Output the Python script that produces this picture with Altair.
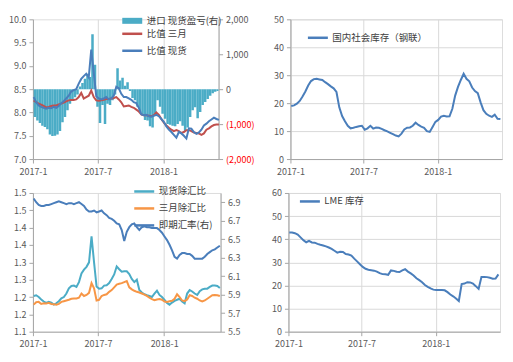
import altair as alt
import pandas as pd

# ---------------- data (weekly readings) ----------------
dates = pd.date_range("2017-01-03", periods=75, freq="7D")

# panel 1: import profit/loss (right axis) and ratios (left axis)
pnl = [-800, -900, -970, -1050, -1080, -1150, -1300, -1340, -1330, -1300,
       -1200, -950, -800, -600, -420, -300, -230, -150, 80, 180,
       300, 440, 350, 1570, 700, -500, -970, -450, -1000, -420,
       -450, -320, -150, 600, 250, 330, 100, 200, -50, -250,
       -320, -500, -650, -750, -880, -900, -1060, -1100, -700, -320,
       -500, -700, -850, -1000, -1020, -1050, -1060, -1000, -920, -1050,
       -1200, -1100, -800, -600, -520, -830, -650, -450, -370, -280,
       -190, -120, -70, -50, 30]
ratio_3m = [8.26, 8.22, 8.19, 8.17, 8.14, 8.11, 8.12, 8.14, 8.15, 8.15,
            8.17, 8.19, 8.21, 8.24, 8.26, 8.27, 8.27, 8.28, 8.33, 8.42,
            8.30, 8.33, 8.36, 8.47, 8.33, 8.26, 8.25, 8.26, 8.27, 8.29,
            8.29, 8.30, 8.31, 8.33, 8.28, 8.22, 8.13, 8.14, 8.15, 8.12,
            8.10, 8.06, 8.02, 7.96, 7.94, 7.94, 7.93, 7.92, 7.94, 8.00,
            7.95, 7.86, 7.78, 7.72, 7.67, 7.63, 7.60, 7.62, 7.60, 7.56,
            7.58, 7.62, 7.62, 7.60, 7.57, 7.56, 7.55, 7.52, 7.55, 7.63,
            7.66, 7.70, 7.73, 7.74, 7.74]
ratio_spot = [8.33, 8.22, 8.15, 8.12, 8.10, 8.08, 8.10, 8.09, 8.12, 8.10,
              8.14, 8.20, 8.24, 8.30, 8.36, 8.45, 8.48, 8.50, 8.62, 8.72,
              8.78, 8.83, 8.75, 9.35, 8.85, 8.35, 8.30, 8.28, 8.30, 8.33,
              8.28, 8.30, 8.36, 8.55, 8.52, 8.40, 8.33, 8.33, 8.30, 8.27,
              8.22, 8.20, 8.10, 7.96, 7.94, 7.95, 7.92, 7.91, 7.93, 7.95,
              7.92, 7.86, 7.80, 7.70, 7.63, 7.58, 7.52, 7.46, 7.58, 7.55,
              7.50, 7.44, 7.66, 7.65, 7.58, 7.54, 7.57, 7.63, 7.72, 7.76,
              7.81, 7.85, 7.89, 7.86, 7.84]

# panel 2: domestic social inventory
stock_cn = [19.0, 19.2, 19.8, 20.8, 22.4, 24.2, 26.3, 27.9, 28.6, 28.7,
            28.5, 28.3, 27.5, 26.8, 26.0, 25.3, 24.0, 18.5, 15.4, 13.5,
            11.9, 11.0, 11.2, 11.5, 11.7, 11.9, 10.5, 11.0, 11.9, 10.9,
            11.3, 11.2, 10.8, 10.3, 9.9, 9.4, 8.9, 8.4, 8.1, 9.1,
            10.6, 11.2, 11.3, 11.9, 13.0, 12.2, 11.6, 11.2, 10.0, 9.7,
            11.5, 13.3, 14.0, 15.2, 15.5, 15.2, 15.3, 18.0, 22.7, 25.8,
            28.3, 30.5, 28.7, 27.8, 25.6, 24.3, 23.6, 20.3, 17.5, 16.2,
            15.5, 15.1, 15.9, 14.4, 14.3]

# panel 3: ratios ex-FX (left) and spot FX rate (right)
spot_fx = [1.203, 1.205, 1.200, 1.193, 1.187, 1.183, 1.186, 1.184, 1.178, 1.182,
           1.188, 1.196, 1.200, 1.210, 1.225, 1.232, 1.233, 1.229, 1.243, 1.268,
           1.279, 1.287, 1.300, 1.375, 1.300, 1.230, 1.224, 1.225, 1.233, 1.234,
           1.240, 1.252, 1.265, 1.288, 1.280, 1.273, 1.274, 1.274, 1.266, 1.252,
           1.243, 1.250, 1.220, 1.213, 1.208, 1.205, 1.203, 1.200, 1.210, 1.218,
           1.206, 1.200, 1.192, 1.183, 1.178, 1.184, 1.189, 1.192, 1.195, 1.187,
           1.182, 1.210, 1.220, 1.216, 1.210, 1.206, 1.217, 1.222, 1.224, 1.224,
           1.229, 1.233, 1.233, 1.232, 1.226]
fut_fx = [1.178, 1.185, 1.186, 1.180, 1.182, 1.181, 1.183, 1.180, 1.179, 1.178,
          1.180, 1.186, 1.188, 1.190, 1.192, 1.195, 1.196, 1.196, 1.198, 1.210,
          1.203, 1.206, 1.212, 1.240, 1.225, 1.190, 1.192, 1.203, 1.206, 1.208,
          1.215, 1.220, 1.228, 1.236, 1.238, 1.240, 1.243, 1.246, 1.228, 1.222,
          1.218, 1.215, 1.213, 1.210, 1.207, 1.203, 1.198, 1.194, 1.191, 1.193,
          1.194, 1.192, 1.187, 1.186, 1.188, 1.189, 1.195, 1.208, 1.200, 1.190,
          1.188, 1.193, 1.205, 1.203, 1.198, 1.195, 1.190, 1.187, 1.190, 1.195,
          1.200, 1.205, 1.206, 1.205, 1.203]
fx_rate = [6.94, 6.90, 6.87, 6.86, 6.86, 6.87, 6.87, 6.88, 6.89, 6.90,
           6.91, 6.90, 6.89, 6.88, 6.89, 6.89, 6.88, 6.89, 6.90, 6.88,
           6.86, 6.82, 6.80, 6.80, 6.81, 6.79, 6.80, 6.81, 6.78, 6.76,
           6.73, 6.72, 6.70, 6.67, 6.66, 6.60, 6.48, 6.58, 6.63, 6.66,
           6.67, 6.63, 6.60, 6.63, 6.64, 6.63, 6.63, 6.62, 6.62, 6.62,
           6.60, 6.57, 6.53, 6.49, 6.44, 6.38, 6.31, 6.29, 6.33, 6.35,
           6.35, 6.34, 6.34, 6.32, 6.29, 6.29, 6.29, 6.29, 6.31, 6.34,
           6.36, 6.38, 6.39, 6.41, 6.43]

# panel 4: LME inventory
lme = [42.9, 42.9, 42.6, 42.0, 40.8, 39.6, 38.7, 39.3, 38.6, 38.5,
       38.0, 37.6, 37.3, 36.9, 36.4, 35.8, 35.0, 34.2, 34.6, 34.5,
       33.6, 33.4, 32.9, 31.6, 30.4, 29.2, 28.0, 27.2, 26.8, 26.6,
       26.4, 26.0, 25.3, 24.9, 24.8, 24.6, 26.5, 26.3, 25.9, 25.8,
       26.5, 27.0, 26.0, 25.2, 24.3, 23.1, 22.3, 21.4, 20.2, 19.4,
       18.7, 18.2, 18.0, 18.0, 18.0, 17.9, 17.1, 16.1, 15.3, 14.4,
       13.3, 20.6, 20.8, 21.4, 21.3, 20.8, 19.7, 18.5, 23.7, 23.7,
       23.6, 23.3, 22.9, 23.0, 24.8]

names1 = ["进口 现货盈亏(右)", "比值 三月", "比值 现货"]
names2 = ["国内社会库存（钢联）"]
names3 = ["现货除汇比", "三月除汇比", "即期汇率(右)"]
names4 = ["LME 库存"]

TEAL = "#4BACC6"
RED = "#C0504D"
BLUE = "#4A7EBB"
ORANGE = "#F79646"

FONT = "Noto Sans CJK SC"
LABEL = "#595959"
GRID = "#D9D9D9"
AXIS = "#A6A6A6"


def series_df(values, name):
    return pd.DataFrame({"date": dates[:len(values)], "v": values, "series": name})


# ---------------- helpers ----------------
x_ticks = [alt.DateTime(year=2017, month=1, date=1),
           alt.DateTime(year=2017, month=7, date=1),
           alt.DateTime(year=2018, month=1, date=1)]


def xenc(end_day):
    return alt.X(
        "date:T", title=None,
        scale=alt.Scale(domain=[alt.DateTime(year=2017, month=1, date=1),
                                alt.DateTime(year=2018, month=6, date=end_day)]),
        axis=alt.Axis(values=x_ticks, format="%Y-%-m", grid=True, gridColor=GRID,
                      domainColor=AXIS, tickColor=AXIS, labelColor=LABEL,
                      labelFontSize=9, labelPadding=4, tickSize=4,
                      labelFont=FONT, labelFlush=False))


def legend(x, y, stype="stroke", row_pad=-6):
    return alt.Legend(title=None, orient="none", legendX=x, legendY=y,
                      symbolType=stype, symbolSize=400, symbolStrokeWidth=2.5,
                      rowPadding=row_pad, labelFontSize=9.5, labelColor="#404040",
                      labelFont=FONT, padding=0, labelOffset=3)


def yaxis(orient, values, fmt=None, expr=None, grid=False, color=LABEL):
    kw = dict(orient=orient, values=values, grid=grid, gridColor=GRID,
              domainColor=AXIS, tickColor=AXIS, labelColor=color,
              labelFontSize=9, labelFont=FONT, tickSize=4, labelPadding=3)
    if fmt:
        kw["format"] = fmt
    if expr:
        kw["labelExpr"] = expr
    return alt.Axis(**kw)


# ---------------- panel 1 ----------------
df_bar = pd.DataFrame({"date": dates, "end": dates + pd.Timedelta(days=7),
                       "pnl": pnl, "series": names1[0]})
bars1 = alt.Chart(df_bar).mark_bar(clip=True).encode(
    x=xenc(4), x2="end:T",
    y=alt.Y("pnl:Q", title=None, scale=alt.Scale(domain=[-2000, 2000]),
            axis=yaxis("right", [-2000, -1000, 0, 1000, 2000],
                       expr="datum.value < 0 ? '(' + format(-datum.value, ',') + ')' : format(datum.value, ',')",
                       color={"condition": {"test": "datum.value < 0", "value": "#FF0000"}, "value": LABEL})),
    y2=alt.datum(0),
    fill=alt.Fill("series:N", scale=alt.Scale(domain=[names1[0]], range=[TEAL]),
                  legend=legend(88, -10, "M-1,-0.3H1V0.3H-1Z")),
)
df_l1 = pd.concat([series_df(ratio_3m, names1[1]), series_df(ratio_spot, names1[2])])
lines1 = alt.Chart(df_l1).mark_line(strokeWidth=2).encode(
    x=xenc(4),
    y=alt.Y("v:Q", title=None, scale=alt.Scale(domain=[7, 10]),
            axis=yaxis("left", [7, 7.5, 8, 8.5, 9, 9.5, 10], fmt=".1f")),
    stroke=alt.Stroke("series:N", scale=alt.Scale(domain=names1[1:], range=[RED, BLUE]),
                      legend=legend(88, 3)),
    order=alt.Order("series:N"),
)
p1 = alt.layer(bars1, lines1).resolve_scale(y="independent").properties(width=186, height=140)

# ---------------- panel 2 ----------------
p2 = alt.Chart(series_df(stock_cn, names2[0])).mark_line(strokeWidth=2).encode(
    x=xenc(9),
    y=alt.Y("v:Q", title=None, scale=alt.Scale(domain=[0, 50]),
            axis=yaxis("left", [0, 10, 20, 30, 40, 50], grid=True)),
    stroke=alt.Stroke("series:N", scale=alt.Scale(domain=names2, range=[BLUE]),
                      legend=legend(16, 7)),
).properties(width=212, height=140)

# ---------------- panel 3 ----------------
df_l3 = pd.concat([series_df(spot_fx, names3[0]), series_df(fut_fx, names3[1])])
stroke3 = alt.Stroke("series:N", scale=alt.Scale(domain=names3, range=[TEAL, ORANGE, BLUE]),
                     legend=legend(100, -13), sort=names3)
left3 = alt.Chart(df_l3).mark_line(strokeWidth=2).encode(
    x=xenc(7),
    y=alt.Y("v:Q", title=None, scale=alt.Scale(domain=[1.1, 1.5]),
            axis=yaxis("left", [1.1, 1.15, 1.2, 1.25, 1.3, 1.35, 1.4, 1.45, 1.5],
                       expr="format(datum.value + 0.001, '.1f')")),
    stroke=stroke3,
)
right3 = alt.Chart(series_df(fx_rate, names3[2])).mark_line(strokeWidth=2).encode(
    x=xenc(7),
    y=alt.Y("v:Q", title=None, scale=alt.Scale(domain=[5.5, 7.0]),
            axis=yaxis("right", [5.5, 5.7, 5.9, 6.1, 6.3, 6.5, 6.7, 6.9], fmt=".1f")),
    stroke=stroke3,
)
p3 = alt.layer(left3, right3).resolve_scale(y="independent").properties(width=188, height=139)

# ---------------- panel 4 ----------------
p4 = alt.Chart(series_df(lme, names4[0])).mark_line(strokeWidth=2).encode(
    x=xenc(9),
    y=alt.Y("v:Q", title=None, scale=alt.Scale(domain=[0, 60]),
            axis=yaxis("left", [0, 10, 20, 30, 40, 50, 60], grid=True)),
    stroke=alt.Stroke("series:N", scale=alt.Scale(domain=names4, range=[BLUE]),
                      legend=legend(10, -3)),
).properties(width=212, height=139)

row1 = alt.hconcat(p1, p2, spacing=17).resolve_scale(stroke="independent", fill="independent")
row2 = alt.hconcat(p3, p4, spacing=30).resolve_scale(stroke="independent", fill="independent")
chart = alt.vconcat(row1, row2, spacing=2).resolve_scale(
    stroke="independent", fill="independent"
).properties(
    padding={"left": 0, "top": 0, "right": 0, "bottom": 0}
).configure_view(strokeWidth=0).configure(font=FONT, background="white")

chart.save("out.html", embed_options={"renderer": "svg", "actions": False})
